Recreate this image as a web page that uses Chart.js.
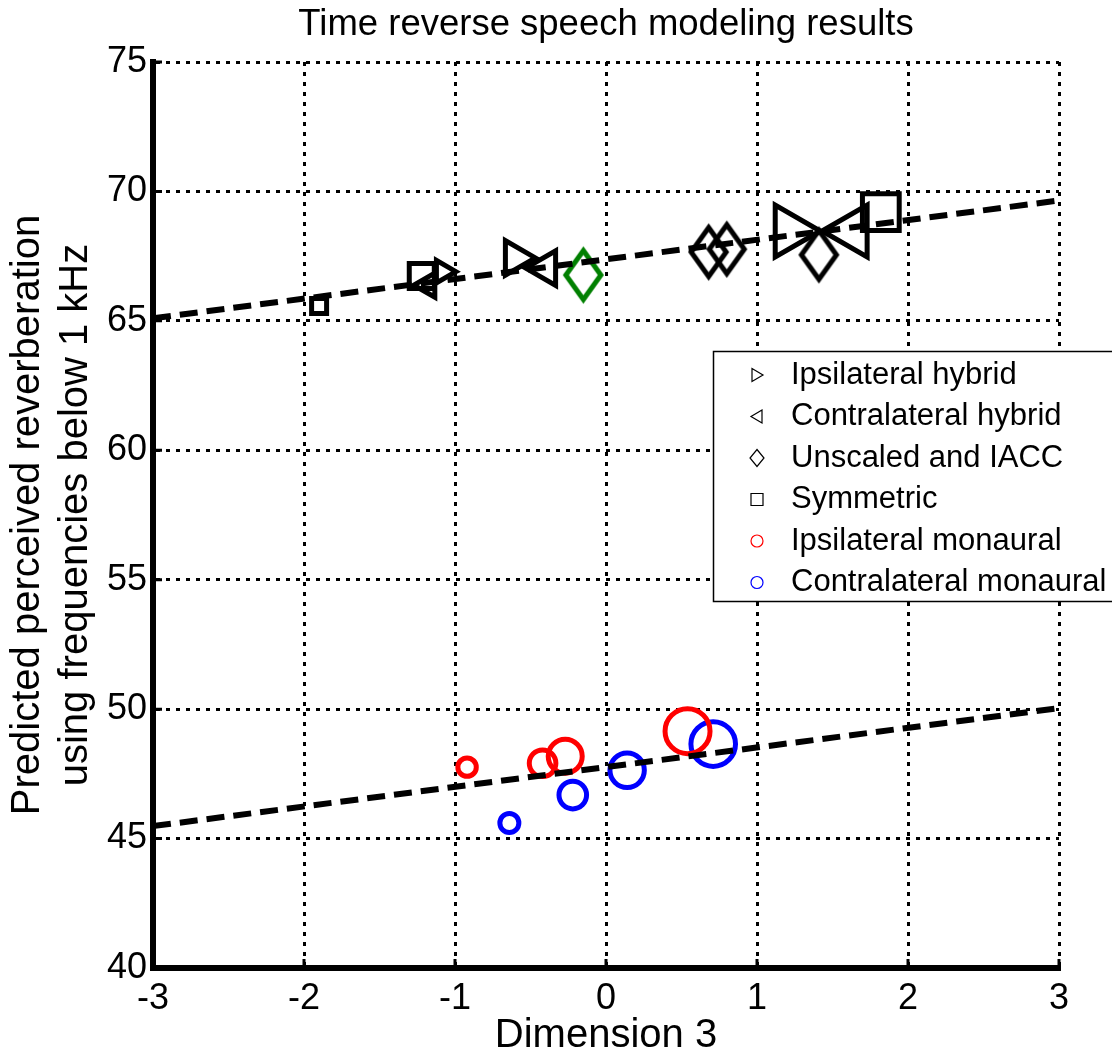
<!DOCTYPE html>
<html>
<head>
<meta charset="utf-8">
<title>Time reverse speech modeling results</title>
<script src="https://cdn.jsdelivr.net/npm/chart.js@4.4.0/dist/chart.umd.min.js"></script>
<style>
  html, body { margin: 0; padding: 0; background: #fff; }
</style>
</head>
<body>
<canvas id="chart" width="1112" height="1057"></canvas>
<script>
// ---- data ----
const chartTitle = 'Time reverse speech modeling results';
const xTicks = [-3, -2, -1, 0, 1, 2, 3];
const yTicks = [40, 45, 50, 55, 60, 65, 70, 75];

const seriesLabels = [
    'Ipsilateral hybrid',
    'Contralateral hybrid',
    'Unscaled and IACC',
    'Symmetric',
    'Ipsilateral monaural',
    'Contralateral monaural'
];

const ipsiHybridX = [-1.08, -0.60, 1.22];
const ipsiHybridY = [66.90, 67.43, 68.47];
const contraHybridX = [-1.18, -0.40, 1.63];
const contraHybridY = [66.38, 67.04, 68.47];
const unscaledX = [-0.15, 0.68, 0.80, 1.41];
const unscaledY = [66.77, 67.66, 67.77, 67.55];
const symmetricX = [-1.90, -1.22, 1.82];
const symmetricY = [65.57, 66.73, 69.20];
const ipsiMonoX = [-0.92, -0.42, -0.27, 0.54];
const ipsiMonoY = [47.76, 47.91, 48.18, 49.15];
const contraMonoX = [-0.64, -0.22, 0.14, 0.71];
const contraMonoY = [45.60, 46.68, 47.64, 48.65];

// regression lines
const fitX = [-3, 3];
const binauralFitY = [65.10, 69.65];
const monauralFitY = [45.48, 50.04];

// ---- marker sizes / colours (style, not data) ----
const ipsiHybridRadius = [13, 20, 30];
const contraHybridRadius = [14, 20, 30];
const symmetricRadius = [10.6, 17.7, 26];
const ipsiMonoRadius = [9.2, 13.3, 17, 22.5];
const contraMonoRadius = [9.5, 13.8, 17.2, 22.3];
const unscaledColors = ['#008000', '#000', '#000', '#000'];

const FONT = '"Liberation Sans", Arial, Helvetica, sans-serif';
Chart.defaults.font.family = FONT;
Chart.defaults.color = '#000';

const toPoints = (xs, ys) => xs.map((x, i) => ({ x: x, y: ys[i] }));

// MATLAB style diamond (taller than wide), drawn into a small canvas
function makeDiamond(color) {
    const w = 35, h = 49, lw = 5;
    const c = document.createElement('canvas');
    c.width = w + 12;
    c.height = h + 12;
    const g = c.getContext('2d');
    const cx = c.width / 2, cy = c.height / 2;
    g.strokeStyle = color;
    g.lineWidth = lw;
    g.beginPath();
    g.moveTo(cx, cy - h / 2);
    g.lineTo(cx + w / 2, cy);
    g.lineTo(cx, cy + h / 2);
    g.lineTo(cx - w / 2, cy);
    g.closePath();
    g.stroke();
    return c;
}

// title centred over the axes (MATLAB style), not over the whole canvas
const axesTitle = {
    id: 'axesTitle',
    afterDraw(chart) {
        const { ctx, chartArea } = chart;
        ctx.save();
        ctx.fillStyle = '#000';
        ctx.font = '36.5px ' + FONT;
        ctx.textAlign = 'center';
        ctx.textBaseline = 'middle';
        ctx.fillText(chartTitle, (chartArea.left + chartArea.right) / 2, chartArea.top - 37);
        ctx.restore();
    }
};

// small inward tick marks on the two axes
const innerTicks = {
    id: 'innerTicks',
    afterDatasetsDraw(chart) {
        const { ctx, chartArea, scales } = chart;
        ctx.save();
        ctx.strokeStyle = '#000';
        ctx.lineWidth = 3;
        ctx.beginPath();
        xTicks.forEach(v => {
            const px = scales.x.getPixelForValue(v);
            ctx.moveTo(px, chartArea.bottom);
            ctx.lineTo(px, chartArea.bottom - 9);
        });
        yTicks.forEach(v => {
            const py = scales.y.getPixelForValue(v);
            ctx.moveTo(chartArea.left, py);
            ctx.lineTo(chartArea.left + 9, py);
        });
        ctx.stroke();
        ctx.restore();
    }
};

// legend box inside the axes, like the MATLAB one (runs off the right edge)
const boxLegend = {
    id: 'boxLegend',
    afterDraw(chart) {
        const { ctx, chartArea } = chart;
        const left = chartArea.right - 346;
        const top = chartArea.top + 289;
        const height = 250;
        ctx.save();
        ctx.fillStyle = '#fff';
        ctx.fillRect(left, top, 500, height);
        ctx.strokeStyle = '#000';
        ctx.lineWidth = 1.5;
        ctx.strokeRect(left + 0.5, top + 0.5, 500, height);

        const mx = left + 44;
        ctx.lineWidth = 1.2;
        seriesLabels.forEach((label, i) => {
            const y = top + 24 + i * 41.5;
            ctx.strokeStyle = i === 4 ? '#f00' : (i === 5 ? '#00f' : '#000');
            ctx.beginPath();
            if (i === 0) {
                ctx.moveTo(mx - 5, y - 6.5);
                ctx.lineTo(mx + 6, y);
                ctx.lineTo(mx - 5, y + 6.5);
                ctx.closePath();
            } else if (i === 1) {
                ctx.moveTo(mx + 5, y - 6.5);
                ctx.lineTo(mx - 6, y);
                ctx.lineTo(mx + 5, y + 6.5);
                ctx.closePath();
            } else if (i === 2) {
                ctx.moveTo(mx, y - 8.5);
                ctx.lineTo(mx + 7, y);
                ctx.lineTo(mx, y + 8.5);
                ctx.lineTo(mx - 7, y);
                ctx.closePath();
            } else if (i === 3) {
                ctx.rect(mx - 6, y - 6, 12, 12);
            } else {
                ctx.arc(mx, y, 6, 0, Math.PI * 2);
            }
            ctx.stroke();

            ctx.fillStyle = '#000';
            ctx.font = '31px ' + FONT;
            ctx.textBaseline = 'middle';
            ctx.textAlign = 'left';
            ctx.fillText(label, left + 78, y);
        });
        ctx.restore();
    }
};

const markerBase = {
    backgroundColor: 'rgba(0,0,0,0)',
    borderWidth: 5,
    order: 1
};

const fitLine = {
    showLine: true,
    borderColor: '#000',
    borderWidth: 6,
    borderDash: [18, 9],
    pointRadius: 0,
    fill: false,
    order: 0
};

new Chart(document.getElementById('chart').getContext('2d'), {
    type: 'scatter',
    data: {
        datasets: [
            Object.assign({}, markerBase, {
                label: seriesLabels[0],
                data: toPoints(ipsiHybridX, ipsiHybridY),
                pointStyle: 'triangle',
                rotation: 90,
                pointRadius: ipsiHybridRadius,
                borderColor: '#000'
            }),
            Object.assign({}, markerBase, {
                label: seriesLabels[1],
                data: toPoints(contraHybridX, contraHybridY),
                pointStyle: 'triangle',
                rotation: 270,
                pointRadius: contraHybridRadius,
                borderColor: '#000'
            }),
            Object.assign({}, markerBase, {
                label: seriesLabels[2],
                data: toPoints(unscaledX, unscaledY),
                pointStyle: unscaledColors.map(makeDiamond),
                pointRadius: 25,
                borderColor: '#000'
            }),
            Object.assign({}, markerBase, {
                label: seriesLabels[3],
                data: toPoints(symmetricX, symmetricY),
                pointStyle: 'rect',
                pointRadius: symmetricRadius,
                borderColor: '#000'
            }),
            Object.assign({}, markerBase, {
                label: seriesLabels[4],
                data: toPoints(ipsiMonoX, ipsiMonoY),
                pointStyle: 'circle',
                pointRadius: ipsiMonoRadius,
                borderColor: '#f00'
            }),
            Object.assign({}, markerBase, {
                label: seriesLabels[5],
                data: toPoints(contraMonoX, contraMonoY),
                pointStyle: 'circle',
                pointRadius: contraMonoRadius,
                borderColor: '#00f'
            }),
            Object.assign({}, fitLine, {
                label: 'binaural fit',
                data: toPoints(fitX, binauralFitY)
            }),
            Object.assign({}, fitLine, {
                label: 'monaural fit',
                data: toPoints(fitX, monauralFitY)
            })
        ]
    },
    options: {
        responsive: false,
        animation: false,
        layout: { padding: { left: 0, right: 53, top: 62, bottom: 0 } },
        plugins: {
            legend: { display: false },
            tooltip: { enabled: false },
            title: { display: false }
        },
        scales: {
            x: {
                type: 'linear',
                min: xTicks[0],
                max: xTicks[xTicks.length - 1],
                ticks: {
                    stepSize: 1,
                    color: '#000',
                    font: { size: 36 },
                    padding: 9,
                    maxRotation: 0
                },
                grid: { color: '#000', lineWidth: 3, drawTicks: false },
                border: { display: true, color: '#000', width: 6, dash: [4, 6] },
                title: {
                    display: true,
                    text: 'Dimension 3',
                    color: '#000',
                    font: { size: 40, lineHeight: 1 },
                    padding: { top: 0, bottom: 1 }
                },
                afterFit: scale => { scale.height = 89; }
            },
            y: {
                type: 'linear',
                min: yTicks[0],
                max: yTicks[yTicks.length - 1],
                ticks: {
                    stepSize: 5,
                    color: '#000',
                    font: { size: 36 },
                    padding: 6
                },
                grid: { color: '#000', lineWidth: 3, drawTicks: false },
                border: { display: true, color: '#000', width: 6, dash: [4, 6] },
                title: {
                    display: true,
                    text: ['Predicted perceived reverberation', 'using frequencies below 1 kHz'],
                    color: '#000',
                    font: { size: 40, lineHeight: 1.2 },
                    padding: { top: 4, bottom: 0 }
                },
                afterFit: scale => { scale.width = 153; }
            }
        }
    },
    plugins: [innerTicks, boxLegend, axesTitle]
});
</script>
</body>
</html>
